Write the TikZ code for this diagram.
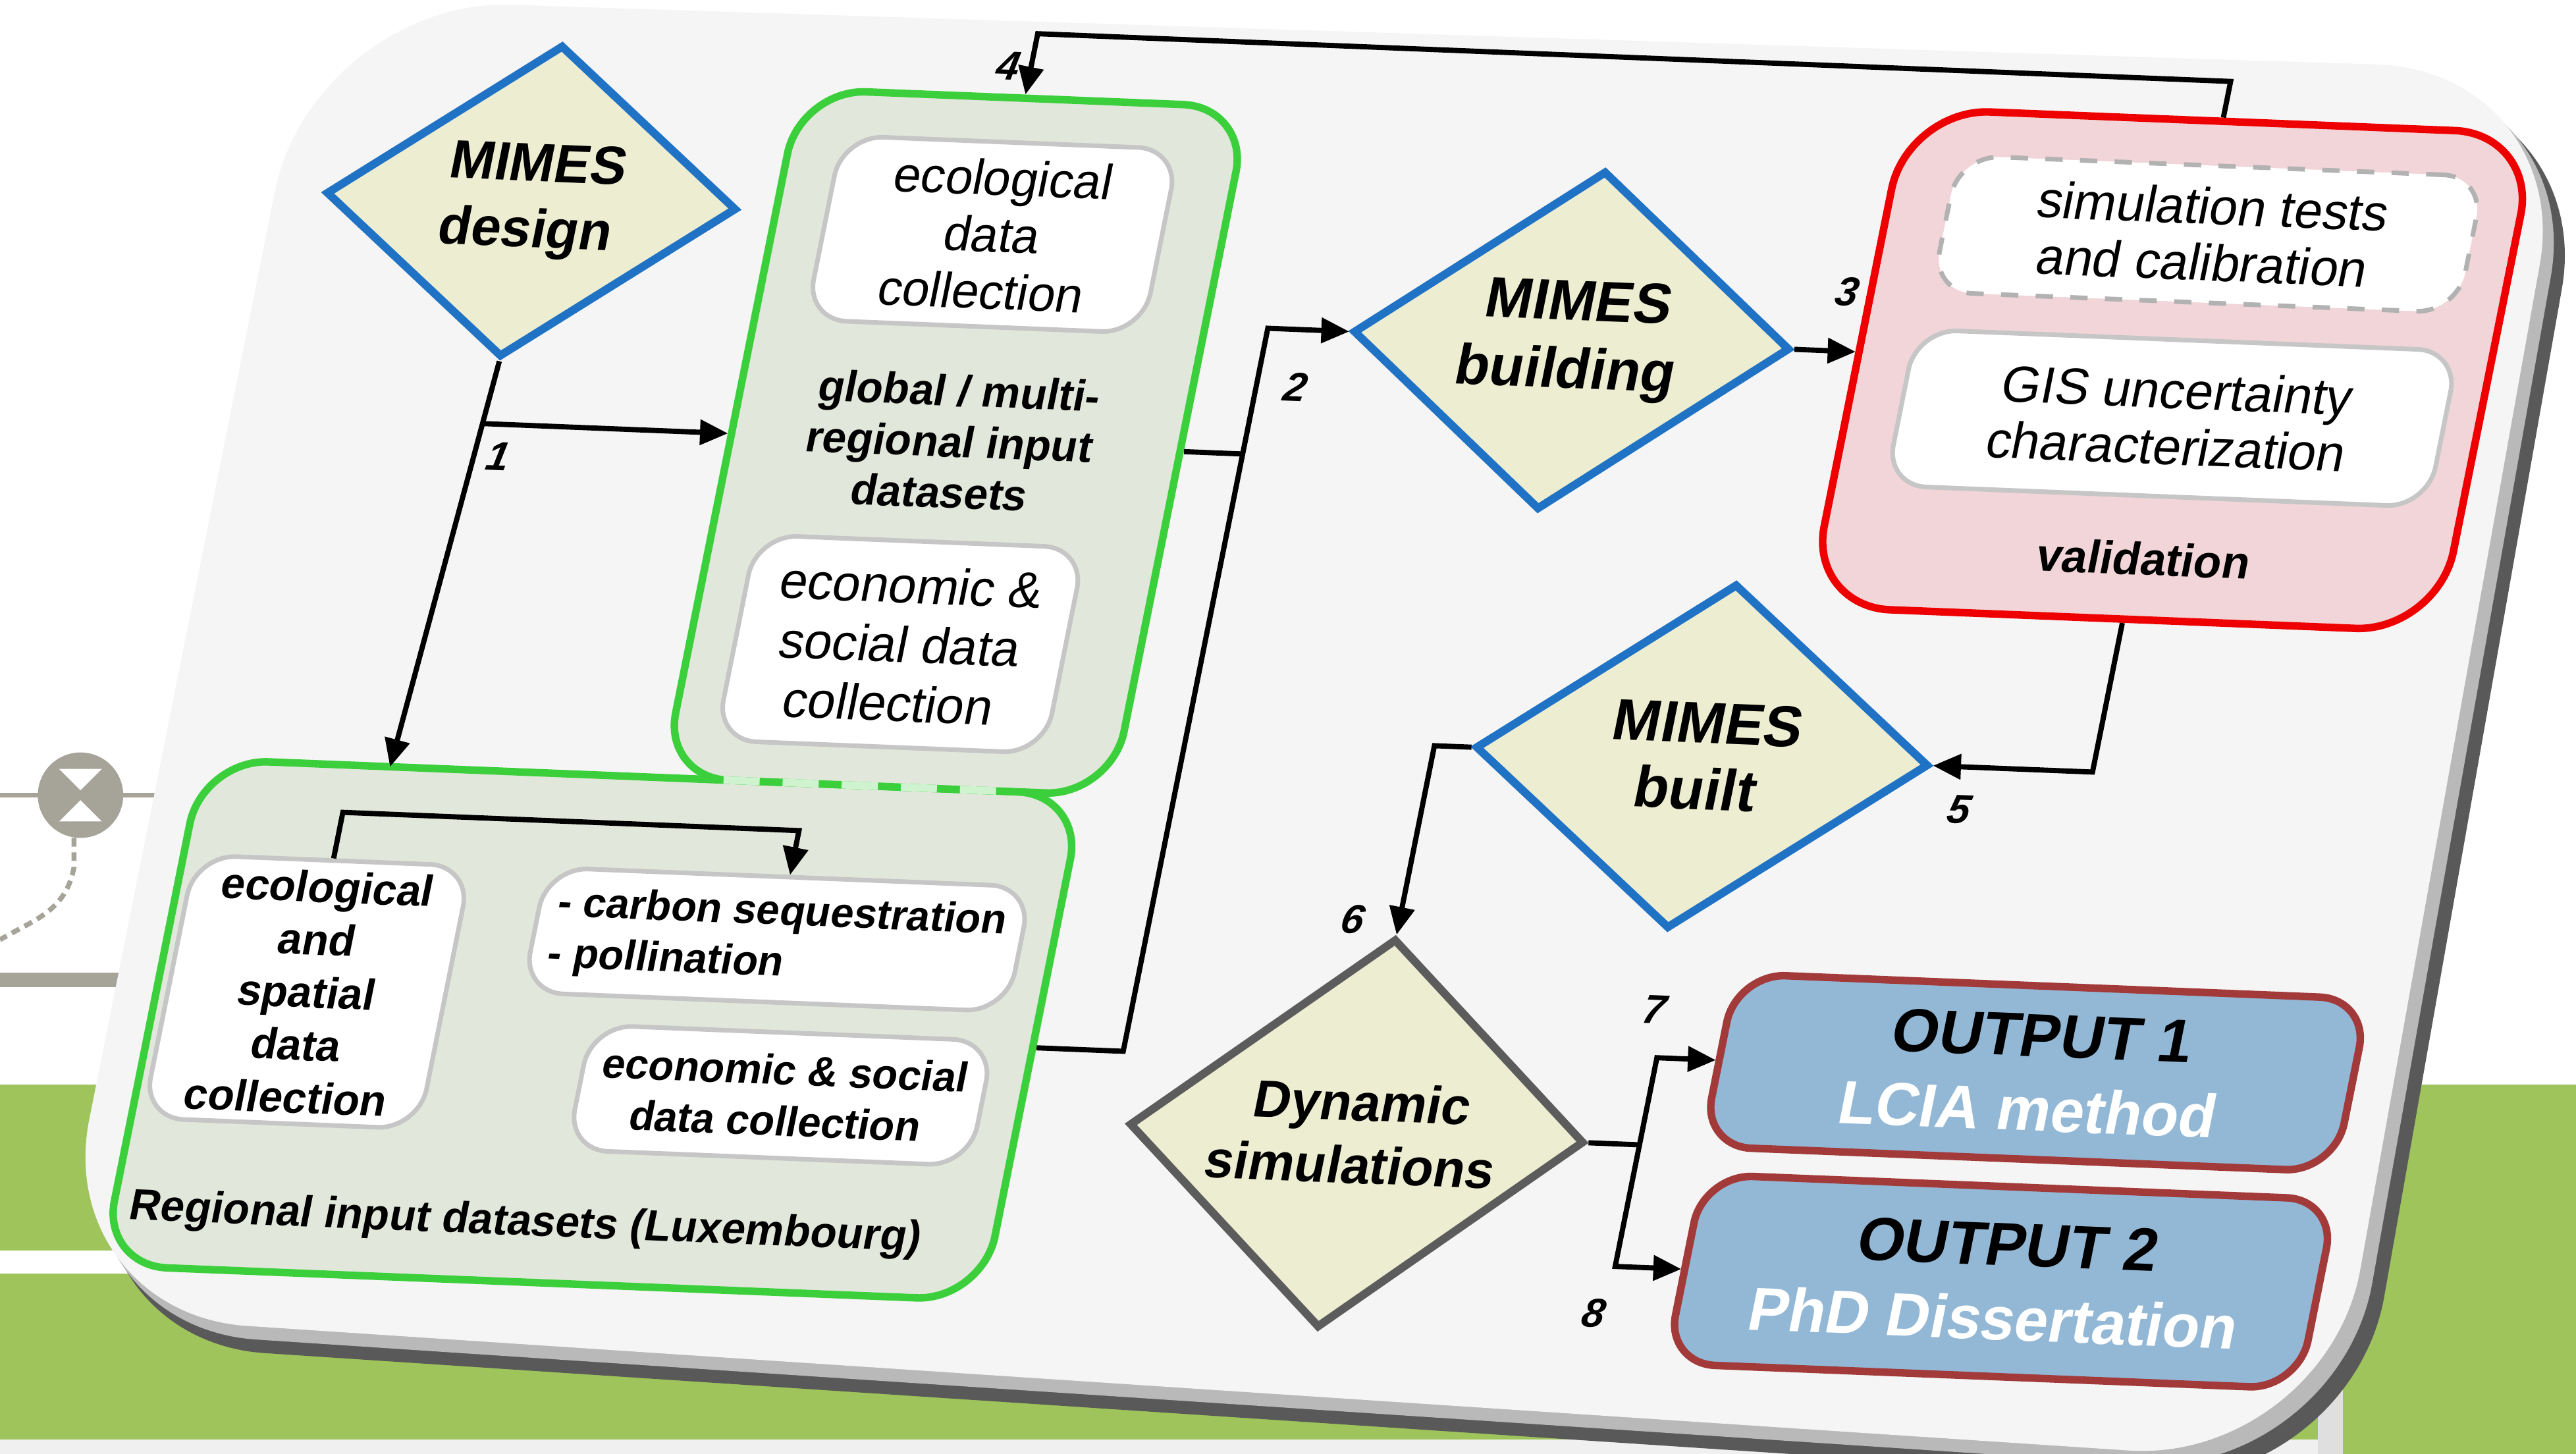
\documentclass[tikz,border=0pt]{standalone}
\usepackage{fontspec}
\setmainfont{Liberation Sans}
\usetikzlibrary{positioning}
\usetikzlibrary{shapes.geometric}
\usetikzlibrary{arrows.meta}

\definecolor{diafill}{HTML}{EDEDD2}
\definecolor{diablue}{HTML}{1F72C4}
\definecolor{diagray}{HTML}{5C5C5C}
\definecolor{boxgreen}{HTML}{3CCF3C}
\definecolor{greenfill}{HTML}{E1E8DB}
\definecolor{validred}{HTML}{EE0000}
\definecolor{pinkfill}{HTML}{F1D5D8}
\definecolor{outblue}{HTML}{93B8D6}
\definecolor{outred}{HTML}{A33A3A}
\definecolor{cardfill}{HTML}{F5F5F5}
\definecolor{slidegreen}{HTML}{9FC45C}
\definecolor{slidegray}{HTML}{A6A398}

\tikzset{
  wire/.style={draw=black, line width=0.9pt},
  conn/.style={wire, -{Triangle[length=1.7mm,width=1.5mm]}},
  decision/.style={diamond, draw=diablue, line width=1.4pt, fill=diafill, inner sep=0pt, align=center, transform shape},
  greenbox/.style={draw=boxgreen, line width=1.3pt, fill=greenfill, rounded corners=4mm, inner sep=0pt, transform shape},
  whitebox/.style={draw=gray!45, line width=0.8pt, fill=white, rounded corners=2.5mm, inner sep=1pt, align=center, transform shape},
  outbox/.style={draw=outred, line width=1.3pt, fill=outblue, rounded corners=3mm, inner sep=1pt, align=center, transform shape, font=\bfseries\fontsize{10.5}{12.8}\selectfont},
  num/.style={font=\bfseries\itshape\fontsize{7}{8}\selectfont, transform shape},
  title/.style={align=center, transform shape, font=\bfseries\fontsize{7.5}{8.8}\selectfont}
}

\begin{document}
\begin{tikzpicture}[x=0.1mm, y=-0.1mm]
\useasboundingbox (0,0) rectangle (1568,885);

% Slide background
\fill[white] (0,0) rectangle (1568,885);
\fill[slidegreen] (0,660) rectangle (1568,761);
\fill[slidegreen] (0,775) rectangle (1568,876);
\fill[slidegreen] (1426,660) rectangle (1568,885);
\fill[gray!12] (0,876) rectangle (1411,885);
\fill[gray!25] (1411,800) rectangle (1426,885);
\draw[slidegray, line width=0.3mm] (0,484) -- (100,484);
\fill[slidegray] (49,484) circle (2.6mm);
\fill[white] (36,468) -- (62,468) -- (49,481) -- cycle;
\fill[white] (36,500) -- (62,500) -- (49,487) -- cycle;
\draw[slidegray, line width=0.3mm, dash pattern=on 1.5pt off 1pt] (45,510) -- (45,528) .. controls (40,555) and (20,560) .. (0,572);
\fill[slidegray] (0,592) rectangle (90,601);

\begin{scope}[shift={(780,440)}, cm={1,-0.04,0.2,1,(0,0)}, shift={(-780,-440)}]

% Card
\fill[black!65, rounded corners=12mm] (124,40) -- (1498,29) -- (1518,878) -- (122,842) -- cycle;
\fill[gray!55, rounded corners=12mm] (116,33) -- (1490,22) -- (1509,870) -- (115,834) -- cycle;
\fill[cardfill, rounded corners=12mm] (108,26) -- (1482,15) -- (1500,862) -- (108,826) -- cycle;

% Input datasets
\node[greenbox, minimum width=53.6mm, minimum height=30.8mm] (reg) at (401,642) {};
\node[greenbox, minimum width=27.3mm, minimum height=41.9mm] (glob) at (549.5,278.5) {};
\draw[boxgreen!25, line width=1.3pt, dash pattern=on 2.2mm off 1.4mm] (450,488) -- (626,488);

\node[whitebox, minimum width=20.5mm, minimum height=11.2mm, font=\fontsize{8.5}{9.8}\selectfont] (eco1) at (546.5,152) {ecological\\data\\collection};
\node[title] (globtxt) at (545.7,278) {global / multi-\\regional input\\datasets};
\node[whitebox, minimum width=20mm, minimum height=12.5mm, font=\fontsize{8.7}{10.2}\selectfont] (soc1) at (540.3,401.6) {economic \&\\social data\\collection};

\node[whitebox, minimum width=16.8mm, minimum height=16mm, font=\bfseries\fontsize{7.5}{9.1}\selectfont] (ecosp) at (224,626) {ecological\\and\\spatial\\data\\collection};
\node[whitebox, minimum width=29.5mm, minimum height=7.6mm, align=left, font=\bfseries\fontsize{7.2}{8.8}\selectfont] (carbon) at (501.6,583) {- carbon sequestration\\- pollination};
\node[whitebox, minimum width=24.5mm, minimum height=7.6mm, font=\bfseries\fontsize{7.2}{8.8}\selectfont] (soc2) at (522.5,677) {economic \& social\\data collection};
\node[title] (regtxt) at (384,761) {Regional input datasets (Luxembourg)};

% Decisions
\node[decision, minimum width=25mm, minimum height=19mm, font=\bfseries\fontsize{9.3}{11.4}\selectfont] (design) at (264,143) {MIMES\\design};
\node[decision, minimum width=26.6mm, minimum height=20mm, font=\bfseries\fontsize{9.8}{11.7}\selectfont] (building) at (909,202) {MIMES\\building};
\node[decision, minimum width=27.6mm, minimum height=21mm, font=\bfseries\fontsize{10}{11.4}\selectfont] (built) at (1038,450) {MIMES\\built};
\node[decision, draw=diagray, minimum width=27.7mm, minimum height=21.6mm, font=\bfseries\fontsize{9}{10.8}\selectfont] (dynsim) at (875,686) {Dynamic\\simulations};

% Validation
\node[draw=validred, line width=1.3pt, fill=pinkfill, rounded corners=5mm, minimum width=38.3mm, minimum height=30.3mm, transform shape] (valid) at (1275.5,205.5) {};
\node[whitebox, dashed, draw=gray!60, minimum width=32mm, minimum height=8.3mm, font=\fontsize{8.8}{9.7}\selectfont] (simtest) at (1280.5,122.5) {simulation tests\\and calibration};
\node[whitebox, minimum width=33mm, minimum height=9.5mm, font=\fontsize{8.8}{9.7}\selectfont] (gis) at (1281,234.5) {GIS uncertainty\\characterization};
\node[transform shape, font=\bfseries\fontsize{7.9}{9}\selectfont] (validtxt) at (1281,320) {validation};

% Outputs
\node[outbox, minimum width=38.5mm, minimum height=10.5mm] (out1) at (1277.6,633) {OUTPUT 1\\\textcolor{white}{LCIA method}};
\begin{scope}
\clip[rounded corners=12mm] (108,26) -- (1482,15) -- (1500,862) -- (108,826) -- cycle;
\node[outbox, minimum width=38.5mm, minimum height=11.5mm] (out2) at (1282,760) {OUTPUT 2\\\textcolor{white}{PhD Dissertation}};
\end{scope}

% Connectors
\coordinate (r1) at (247,488);
\coordinate (j1) at (261,278.5);
\draw[conn] (design.south) -- (r1);
\draw[conn] (j1) -- (glob.west);
\coordinate (j2) at (724,202);
\draw[wire] (glob.east) -- (glob.east -| j2);
\draw[conn] (reg.east) -| (j2) -- (building.west);
\draw[conn] (building.east) -- (building.east -| valid.west);
\draw[conn] (valid.north) -- ++(0,-22) -| (glob.north);
\draw[conn] (valid.south) |- (built.east);
\draw[conn] (built.west) -| (dynsim.north);
\coordinate (j7) at (1047,686);
\draw[wire] (dynsim.east) -- (j7);
\draw[conn] (j7) |- (out1.west);
\draw[conn] (j7) |- (out2.west);
\draw[conn] (ecosp.north) -- ++(0,-28) -| (carbon.north);

% Step numbers
\node[num] (n1) at (275,298) {1};
\node[num] (n2) at (748,237) {2};
\node[num] (n3) at (1070,166) {3};
\node[num] (n4) at (536,50) {4};
\node[num] (n5) at (1200,476) {5};
\node[num] (n6) at (847,557) {6};
\node[num] (n7) at (1040,604) {7};
\node[num] (n8) at (1040,789) {8};

\end{scope}
\end{tikzpicture}
\end{document}
